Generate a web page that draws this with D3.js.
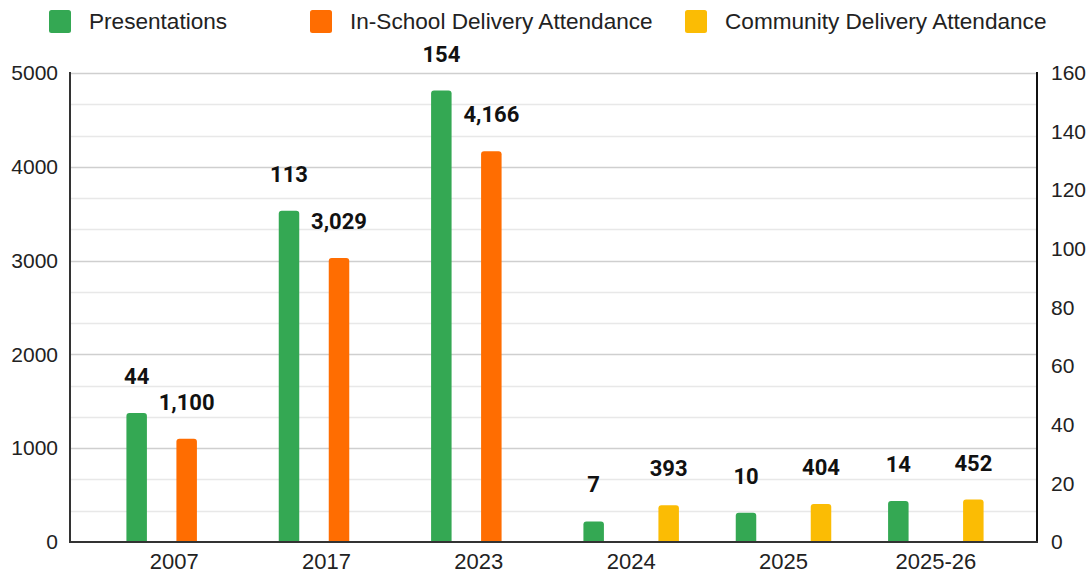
<!DOCTYPE html>
<html>
<head>
<meta charset="utf-8">
<script src="https://cdn.jsdelivr.net/npm/d3@7"></script>
<style>
  html, body { margin: 0; padding: 0; background: #fff; }
  svg { display: block; }
</style>
</head>
<body>
<svg id="chart" width="1091" height="575"></svg>
<script>
// ---- data ----
const categories = ["2007", "2017", "2023", "2024", "2025", "2025-26"];
const presentations = [44, 113, 154, 7, 10, 14];          // right axis
const inSchoolAttendance = [1100, 3029, 4166, null, null, null]; // left axis
const communityAttendance = [null, null, null, 393, 404, 452];   // left axis
const seriesNames = ["Presentations", "In-School Delivery Attendance", "Community Delivery Attendance"];
const seriesColors = ["#34a853", "#ff6d01", "#fbbc04"];
const leftTicks = [0, 1000, 2000, 3000, 4000, 5000];
const rightTicks = [0, 20, 40, 60, 80, 100, 120, 140, 160];
// slot order within each group (second slot is an empty series slot)
const slotOrder = ["Presentations", "", "In-School Delivery Attendance", "Community Delivery Attendance"];

// ---- layout ----
const svg = d3.select("#chart");
const plot = { left: 70, right: 1037, top: 73, bottom: 542 };
const axisFont = "'Liberation Sans', Arial, sans-serif";

const x0 = d3.scaleBand().domain(categories).range([plot.left + 28, plot.right - 25]).padding(0);
const x1 = d3.scaleBand().domain(slotOrder).range([-50, 50]).paddingInner(0.18).paddingOuter(0.09);
const yLeft = d3.scaleLinear().domain([0, 5000]).range([plot.bottom, plot.top]);
const yRight = d3.scaleLinear().domain([0, 160]).range([plot.bottom, plot.top]);

// ---- gridlines ----
const minorVals = d3.range(0, 16).map(i => i * 1000 / 3).filter((v, i) => i % 3 !== 0 && v < 5000);
svg.append("g").selectAll("line").data(minorVals).join("line")
  .attr("x1", plot.left).attr("x2", plot.right)
  .attr("y1", d => Math.round(yLeft(d)) + 0.5).attr("y2", d => Math.round(yLeft(d)) + 0.5)
  .attr("stroke", "#e8e8e8").attr("stroke-width", 1.5);
svg.append("g").selectAll("line").data(leftTicks.filter(d => d > 0)).join("line")
  .attr("x1", plot.left).attr("x2", plot.right)
  .attr("y1", d => Math.round(yLeft(d)) + 0.5).attr("y2", d => Math.round(yLeft(d)) + 0.5)
  .attr("stroke", "#cfcfcf").attr("stroke-width", 1.5);

// ---- bars ----
const bars = [];
categories.forEach((c, i) => {
  bars.push({ cat: c, series: seriesNames[0], value: presentations[i], scale: yRight, color: seriesColors[0] });
  if (inSchoolAttendance[i] != null)
    bars.push({ cat: c, series: seriesNames[1], value: inSchoolAttendance[i], scale: yLeft, color: seriesColors[1] });
  if (communityAttendance[i] != null)
    bars.push({ cat: c, series: seriesNames[2], value: communityAttendance[i], scale: yLeft, color: seriesColors[2] });
});

function topRounded(x, y, w, h, r) {
  r = Math.min(r, h, w / 2);
  return `M${x},${y + h}V${y + r}Q${x},${y} ${x + r},${y}H${x + w - r}Q${x + w},${y} ${x + w},${y + r}V${y + h}Z`;
}

const bw = x1.bandwidth();
svg.append("g").selectAll("path").data(bars).join("path")
  .attr("d", d => {
    const bx = x0(d.cat) + x0.bandwidth() / 2 + x1(d.series);
    const by = d.scale(d.value);
    return topRounded(bx, by, bw, plot.bottom - by, 3);
  })
  .attr("fill", d => d.color);

// ---- value labels ----
const fmt = d3.format(",");
svg.append("g").selectAll("text").data(bars).join("text")
  .attr("x", d => x0(d.cat) + x0.bandwidth() / 2 + x1(d.series) + bw / 2)
  .attr("y", d => d.scale(d.value) - 29)
  .attr("text-anchor", "middle")
  .attr("font-family", "Roboto, sans-serif")
  .attr("font-weight", "bold")
  .attr("font-size", 22)
  .attr("fill", "#111")
  .text(d => fmt(d.value));

// ---- axes ----
const axL = svg.append("g").attr("transform", `translate(${plot.left},0)`)
  .call(d3.axisLeft(yLeft).tickValues(leftTicks).tickSize(0).tickPadding(12).tickFormat(d3.format("d")));
const axR = svg.append("g").attr("transform", `translate(${plot.right},0)`)
  .call(d3.axisRight(yRight).tickValues(rightTicks).tickSize(0).tickPadding(14).tickFormat(d3.format("d")));
const axB = svg.append("g").attr("transform", `translate(0,${plot.bottom})`)
  .call(d3.axisBottom(x0).tickSize(0).tickPadding(11));
[axL, axR, axB].forEach(a => {
  a.select(".domain").remove();
  a.selectAll("text").attr("font-family", axisFont).attr("font-size", 21).attr("fill", "#222");
});
axB.selectAll("text").attr("font-size", 22);

svg.append("line").attr("x1", plot.left).attr("x2", plot.left).attr("y1", plot.top - 1).attr("y2", plot.bottom + 1)
  .attr("stroke", "#333").attr("stroke-width", 2);
svg.append("line").attr("x1", plot.right).attr("x2", plot.right).attr("y1", plot.top - 1).attr("y2", plot.bottom + 1)
  .attr("stroke", "#111").attr("stroke-width", 2);
svg.append("line").attr("x1", plot.left).attr("x2", plot.right + 1).attr("y1", plot.bottom).attr("y2", plot.bottom)
  .attr("stroke", "#333").attr("stroke-width", 2);

// ---- legend ----
const legendX = [49, 310, 685];
const lg = svg.append("g").selectAll("g").data(seriesNames).join("g")
  .attr("transform", (d, i) => `translate(${legendX[i]},10)`);
lg.append("rect").attr("width", 22).attr("height", 23).attr("rx", 2.5).attr("fill", (d, i) => seriesColors[i]);
lg.append("text").attr("x", 40).attr("y", 19).attr("font-family", axisFont).attr("font-size", 22.6)
  .attr("fill", "#222").text(d => d);
</script>
</body>
</html>
